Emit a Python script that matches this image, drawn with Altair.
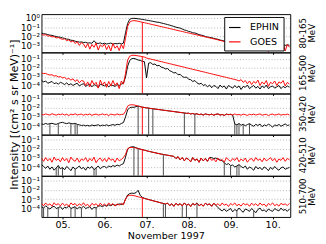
import altair as alt
import numpy as np
import pandas as pd

# sample times (day of November 1997), every 0.05 day
T = [round(4.5 + 0.05 * k, 2) for k in range(119)]

# log10 intensities
P1_GOES = [
    -1.75,-1.85,-1.80,-1.95,-1.92,-2.05,-2.00,-2.15,-2.10,-2.22,
    -2.30,-2.25,-2.45,-2.35,-2.60,-2.45,-2.75,-2.55,-2.95,-2.65,
    -2.80,-3.20,-2.75,-3.35,-2.85,-3.15,-2.70,-3.45,-2.90,-3.10,
    -2.80,-3.40,-2.95,-3.55,-2.75,-3.25,-3.00,-3.50,-2.85,-3.30,
    -2.20,-0.90,-0.45,-0.33,-0.30,-0.32,-0.37,-0.42,-0.47,-0.52,
    -0.57,-0.62,-0.68,-0.73,-0.78,-0.83,-0.89,-0.94,-0.99,-1.04,
    -1.10,-1.15,-1.20,-1.25,-1.31,-1.36,-1.41,-1.46,-1.52,-1.57,
    -1.62,-1.67,-1.73,-1.78,-1.83,-1.88,-1.94,-1.99,-2.04,-2.09,
    -2.15,-2.20,-2.25,-2.30,-2.36,-2.42,-2.47,-2.53,-2.58,-2.65,
    -2.70,-2.62,-2.85,-2.70,-3.00,-2.75,-3.20,-2.80,-3.10,-2.70,
    -3.30,-2.85,-3.05,-2.65,-3.45,-2.90,-3.15,-2.75,-3.60,-2.85,
    -3.20,-2.70,-3.40,-2.95,-3.05,-2.70,-3.55,-2.85,-3.15]
P1_EPHIN = [
    -1.62,-1.70,-1.72,-1.80,-1.85,-1.88,-1.95,-2.00,-2.05,-2.08,
    -2.15,-2.20,-2.28,-2.30,-2.40,-2.42,-2.50,-2.55,-2.60,-2.58,
    -2.65,-2.62,-2.70,-2.68,-2.72,-2.45,-2.70,-2.75,-2.68,-2.78,
    -2.72,-2.80,-2.75,-2.70,-2.82,-2.75,-2.78,-2.72,-2.80,-2.70,
    -1.60,-0.60,-0.15,-0.06,-0.05,-0.07,-0.10,-0.13,-0.17,-0.20,
    -0.25,-0.28,-0.33,-0.37,-0.42,-0.46,-0.48,-0.55,-0.60,-0.66,
    -0.72,-0.78,-0.85,-0.92,-1.00,-1.05,-1.10,-1.20,-1.30,-1.35,
    -1.45,-1.50,-1.60,-1.62,-1.70,-1.80,-1.85,-1.90,-2.00,-2.05,
    -2.10,-2.12,-2.20,-2.25,-2.30,-2.38,-2.42,-2.48,-2.52,-2.58,
    -2.62,-2.65,-2.70,-2.68,-2.75,-2.72,-2.80,-2.75,-2.78,-2.82,
    -2.80,-2.85,-2.78,-2.88,-2.82,-2.80,-2.90,-2.85,-2.82,-2.88,
    -2.85,-2.90,-2.84,-2.92,-2.86,-2.88,-2.95,-2.90,-2.92]

P2_GOES = [
    -2.55,-2.62,-2.60,-2.72,-2.78,-2.75,-2.90,-2.85,-3.00,-2.95,
    -3.10,-3.05,-3.25,-3.15,-3.35,-3.20,-3.50,-3.30,-3.65,-3.40,
    -3.45,-3.95,-3.55,-4.10,-3.40,-3.85,-3.60,-4.25,-3.35,-3.90,
    -3.55,-4.15,-3.50,-4.00,-3.40,-3.95,-3.65,-4.30,-3.45,-3.80,
    -2.60,-1.10,-0.68,-0.58,-0.57,-0.60,-0.64,-0.68,-0.72,-0.77,
    -0.88,-0.94,-1.00,-1.06,-1.11,-1.17,-1.23,-1.28,-1.34,-1.40,
    -1.46,-1.51,-1.57,-1.63,-1.68,-1.74,-1.80,-1.85,-1.91,-1.97,
    -2.03,-2.08,-2.14,-2.20,-2.25,-2.31,-2.37,-2.42,-2.48,-2.54,
    -2.60,-2.65,-2.71,-2.77,-2.82,-2.88,-2.94,-2.99,-3.05,-3.11,
    -3.17,-3.22,-3.28,-3.34,-3.45,-3.30,-3.60,-3.40,-3.75,-3.45,
    -3.85,-3.50,-3.70,-3.35,-3.95,-3.55,-3.80,-3.40,-4.05,-3.60,
    -3.75,-3.45,-3.95,-3.55,-3.70,-3.40,-4.00,-3.60,-3.80]
P2_EPHIN = [
    -3.40,-3.55,-3.45,-3.70,-3.60,-3.50,-3.75,-3.65,-3.80,-3.60,
    -3.70,-3.85,-3.65,-3.90,-3.75,-3.95,-3.80,-3.70,-4.00,-3.85,
    -3.75,-4.05,-3.90,-3.80,-4.10,-3.85,-3.95,-4.15,-3.80,-3.90,
    -4.00,-3.85,-4.10,-3.90,-3.95,-4.05,-3.85,-3.95,-3.80,-3.70,
    -3.00,-1.80,-1.15,-0.95,-0.92,-1.00,-1.10,-1.15,-1.25,-1.30,
    -3.10,-1.45,-1.40,-1.60,-1.55,-1.75,-1.70,-1.90,-1.95,-2.10,
    -2.05,-2.30,-2.40,-2.55,-2.50,-2.75,-2.70,-2.95,-3.05,-3.00,
    -3.25,-3.30,-3.50,-3.40,-3.65,-3.80,-3.70,-3.95,-3.85,-4.10,
    -3.90,-4.20,-3.95,-4.05,-4.30,-3.90,-4.15,-4.00,-4.35,-3.95,
    -4.10,-4.25,-3.95,-4.20,-4.00,-4.40,-4.05,-4.15,-3.90,-4.30,
    -4.10,-3.95,-4.25,-4.05,-4.35,-4.00,-4.20,-3.90,-4.30,-4.10,
    -4.00,-4.25,-4.10,-3.95,-4.30,-4.05,-4.20,-4.00,-4.15]

P3_GOES = [
    -2.70,-2.78,-2.68,-2.75,-2.80,-2.66,-2.74,-2.82,-2.70,-2.76,
    -2.68,-2.80,-2.72,-2.85,-2.70,-2.78,-2.66,-2.80,-2.74,-2.70,
    -2.82,-2.72,-2.78,-2.68,-2.84,-2.74,-2.70,-2.80,-2.76,-2.68,
    -2.78,-2.72,-2.86,-2.70,-2.76,-2.80,-2.68,-2.78,-2.74,-2.72,
    -2.40,-1.85,-1.72,-1.70,-1.72,-1.78,-1.84,-1.90,-1.95,-2.00,
    -2.03,-2.06,-2.10,-2.13,-2.16,-2.19,-2.22,-2.25,-2.28,-2.31,
    -2.34,-2.37,-2.40,-2.43,-2.46,-2.49,-2.52,-2.55,-2.58,-2.62,
    -2.60,-2.68,-2.64,-2.72,-2.66,-2.76,-2.70,-2.80,-2.68,-2.74,
    -2.78,-2.70,-2.82,-2.72,-2.68,-2.80,-2.74,-2.84,-2.70,-2.76,
    -2.72,-2.80,-2.68,-2.78,-2.74,-2.82,-2.70,-2.76,-2.84,-2.72,
    -2.78,-2.70,-2.80,-2.74,-2.68,-2.82,-2.76,-2.72,-2.86,-2.74,
    -2.70,-2.80,-2.76,-2.68,-2.82,-2.74,-2.78,-2.70,-2.80]
P3_EPHIN = ([
    -3.75,-3.80,-3.70,-3.78,-3.72,-3.68,-3.76,-3.80,-3.70,-3.62,
    -3.58,-3.66,-3.72,-3.64,-3.70,-3.75,-3.68,-3.80,-3.85,-3.92,
    -3.88,-3.95,-3.90,-3.98,-3.86,-3.94,-3.90,-3.84,-3.96,-3.88,
    -3.92,-3.85,-3.95,-3.88,-3.82,-3.90,-3.78,-3.84,-3.70,-3.60,
    -3.00,-2.25,-2.02,-1.96,-1.98,-1.90]
    + P3_GOES[46:92]
    + [-3.75,-3.85,-3.70,-3.90,-3.78,-3.95,-3.82,-3.72,
       -3.88,-4.00,-3.80,-3.92,-3.76,-4.05,-3.85,-3.95,-3.78,-3.90,
       -4.10,-3.85,-3.95,-3.80,-4.00,-3.88,-3.75,-3.92,-3.85])

P4_GOES = [
    -3.00,-3.35,-2.95,-3.30,-3.05,-3.45,-2.90,-3.25,-3.10,-3.40,
    -2.95,-3.30,-3.05,-3.50,-2.90,-3.20,-3.35,-3.00,-3.45,-3.10,
    -3.25,-2.95,-3.40,-3.05,-3.30,-2.90,-3.50,-3.15,-3.00,-3.35,
    -3.05,-3.40,-2.95,-3.25,-3.10,-3.45,-3.00,-3.30,-3.15,-2.95,
    -2.60,-2.00,-1.88,-1.86,-1.87,-1.92,-1.98,-2.05,-2.10,-2.16,
    -2.22,-2.28,-2.33,-2.38,-2.43,-2.48,-2.53,-2.58,-2.62,-2.66,
    -2.70,-2.74,-2.78,-2.82,-3.05,-2.85,-3.20,-2.95,-3.30,-3.00,
    -3.15,-3.40,-2.95,-3.25,-3.10,-3.45,-3.00,-3.30,-3.05,-3.35,
    -2.95,-3.25,-3.10,-3.40,-3.00,-3.30,-3.15,-3.45,-2.95,-3.20,
    -3.35,-3.05,-3.25,-2.95,-3.40,-3.10,-3.30,-3.00,-3.45,-3.15,
    -3.05,-3.35,-2.95,-3.25,-3.10,-3.40,-3.00,-3.30,-3.15,-2.95,
    -3.30,-3.05,-3.45,-3.10,-3.25,-2.95,-3.35,-3.05,-3.20]
P4_EPHIN = ([
    -3.70,-3.90,-4.10,-3.85,-4.20,-3.95,-4.30,-4.05,-3.80,-4.15,
    -4.00,-4.25,-3.90,-4.10,-4.35,-3.95,-4.20,-4.05,-3.85,-4.15,
    -4.00,-4.30,-3.95,-4.10,-3.90,-4.25,-4.05,-3.85,-4.15,-3.95,
    -3.90,-4.05,-3.85,-3.95,-3.80,-3.90,-3.75,-3.85,-3.70,-3.60,
    -2.90,-2.05,-1.85,-1.80,-1.80,-1.90]
    + P4_GOES[46:81]
    + [-2.95,-3.05,-3.00,-3.10,-3.20,-3.30,
       -3.50,-3.70,-3.60,-3.80,-3.75,-3.95,-3.85,-3.70,-3.90,
       -4.05,-3.85,-4.20,-3.95,-4.10,-4.30,-3.90,-4.15,-4.00,-4.25,
       -3.95,-4.10,-4.35,-4.00,-4.20,-3.90,-4.15,-4.30,-4.05,-3.95,
       -4.20,-4.10,-4.00])

P5_GOES = [
    -3.45,-3.70,-3.40,-3.65,-3.50,-3.75,-3.38,-3.62,-3.48,-3.72,
    -3.42,-3.68,-3.52,-3.78,-3.40,-3.60,-3.46,-3.74,-3.50,-3.66,
    -3.38,-3.70,-3.55,-3.80,-3.44,-3.64,-3.48,-3.76,-3.42,-3.68,
    -3.52,-3.72,-3.40,-3.66,-3.46,-3.74,-3.50,-3.62,-3.44,-3.58,
    -3.00,-2.65,-2.58,-2.58,-2.62,-2.68,-2.74,-2.80,-2.86,-2.92,
    -2.98,-3.04,-3.10,-3.16,-3.22,-3.28,-3.34,-3.40,-3.46,-3.52,
    -3.42,-3.68,-3.50,-3.76,-3.44,-3.64,-3.48,-3.72,-3.40,-3.66,
    -3.52,-3.78,-3.46,-3.62,-3.40,-3.70,-3.54,-3.74,-3.44,-3.60,
    -3.50,-3.76,-3.42,-3.66,-3.48,-3.72,-3.40,-3.64,-3.52,-3.78,
    -3.46,-3.62,-3.40,-3.70,-3.54,-3.74,-3.44,-3.60,-3.50,-3.76,
    -3.42,-3.66,-3.48,-3.72,-3.40,-3.64,-3.52,-3.78,-3.46,-3.62,
    -3.40,-3.70,-3.54,-3.74,-3.44,-3.60,-3.50,-3.68,-3.45]
P5_EPHIN = ([
    -3.80,-3.95,-3.70,-3.90,-4.05,-3.85,-3.75,-4.00,-3.90,-3.80,
    -4.10,-3.85,-3.95,-3.70,-4.00,-3.90,-3.80,-4.05,-3.85,-3.95,
    -3.75,-4.00,-3.90,-3.80,-4.10,-3.85,-3.95,-3.75,-3.70,-3.80,
    -3.65,-3.75,-3.60,-3.70,-3.55,-3.65,-3.60,-3.50,-3.58,-3.52,
    -3.00,-2.55,-2.40,-2.35,-2.38,-2.30,-2.05,-2.60,-2.80,-2.90]
    + P5_GOES[50:84]
    + [-3.90,-4.10,-4.25,-4.05,-4.30,-4.15,
       -4.00,-4.35,-4.10,-4.25,-3.95,-4.20,-4.40,-4.05,-4.15,-4.30,
       -4.00,-4.20,-4.45,-4.10,-3.95,-4.25,-4.15,-4.35,-4.05,-4.20,
       -4.30,-4.00,-4.15,-4.25,-3.95,-4.20,-4.10,-4.30,-4.05])

# sample indices where the data drop out (drawn down to the panel floor)
EPHIN_GAPS = [[], [],
              [4, 8, 14, 16, 17, 46, 51, 53, 68, 73, 92, 93, 94, 96, 99],
              [7, 8, 10, 16, 25, 26, 44, 46, 58, 87, 90, 93, 94],
              [1, 3, 8, 14, 16, 19, 26, 58, 59, 67, 69, 74, 93, 101]]
GOES_GAPS = [[48], [48], [48], [48], [48]]

CHANNELS = ["80-165\nMeV", "165-500\nMeV", "350-420\nMeV", "420-510\nMeV", "510-700\nMeV"]
Y_RANGES = [(-3.7, 0.4), (-4.85, -0.25), (-4.9, -0.5), (-4.9, -0.5), (-4.9, -0.5)]
Y_TICKS = [[1, 0.1, 0.01, 0.001]] + [[0.1, 0.01, 0.001, 0.0001]] * 4
DAYS = [5, 6, 7, 8, 9, 10]
SERIES = [(P1_EPHIN, P1_GOES), (P2_EPHIN, P2_GOES), (P3_EPHIN, P3_GOES),
          (P4_EPHIN, P4_GOES), (P5_EPHIN, P5_GOES)]
HEIGHTS = [40, 43, 43, 43, 43]

W = 260
FONT = "DejaVu Sans"
YLAB = ("datum.value >= 0.5 ? '10⁰' : datum.value >= 0.05 ? '10⁻¹' : "
        "datum.value >= 0.005 ? '10⁻²' : datum.value >= 0.0005 ? '10⁻³' : '10⁻⁴'")
XLAB = "datum.value < 10 ? '0' + datum.value + '.' : datum.value + '.'"

xscale = alt.Scale(domain=[4.5, 10.42], nice=False, zero=False)
cscale = alt.Scale(domain=["EPHIN", "GOES"], range=["black", "red"])

panels = []
for p in range(5):
    eph, goes = SERIES[p]
    lo, hi = Y_RANGES[p]
    H = HEIGHTS[p]
    yscale = alt.Scale(type="log", domain=[10 ** lo, 10 ** hi], nice=False)
    yaxis = alt.Axis(values=Y_TICKS[p], labelExpr=YLAB, grid=True, gridDash=[1, 2],
                     gridColor="#a0a0a0", gridWidth=0.8, ticks=False, domain=False,
                     labelPadding=2, labelFontSize=9, labelOverlap=False,
                     labelFlush=False,
                     title="Intensity [(cm² s sr MeV)⁻¹]" if p == 2 else None,
                     titleFontSize=11.5, titleFontWeight="normal", titlePadding=1)
    if p == 4:
        xaxis = alt.Axis(values=DAYS, labelExpr=XLAB, tickSize=2, labelPadding=1,
                         domain=False, grid=False, labelFontSize=10,
                         labelOverlap=False,
                         title="November 1997", titleFontSize=10,
                         titleFontWeight="normal", titlePadding=2)
    else:
        xaxis = alt.Axis(values=DAYS, labels=False, tickSize=2, domain=False,
                         grid=False, title=None)
    if p == 0:
        leg = alt.Legend(title=None, orient="none", legendX=191, legendY=3,
                         symbolType="stroke", symbolSize=144, symbolStrokeWidth=1.2,
                         labelFontSize=10, labelOffset=9, padding=4,
                         strokeColor="black", fillColor="white", rowPadding=3,
                         labelFont=FONT, cornerRadius=0)
    else:
        leg = None
    X = alt.X("t:Q", scale=xscale, axis=xaxis)
    layers = []
    for name, vals in (("EPHIN", eph), ("GOES", goes)):
        df = pd.DataFrame({"t": T, "v": np.power(10.0, vals), "s": name})
        layers.append(alt.Chart(df).mark_line(strokeWidth=1, clip=True).encode(
            x=X, y=alt.Y("v:Q", scale=yscale, axis=yaxis),
            color=alt.Color("s:N", scale=cscale, legend=leg)))
    for gaps, vals, col in ((EPHIN_GAPS[p], eph, "#444444"), (GOES_GAPS[p], goes, "red")):
        if gaps:
            gdf = pd.DataFrame({"t": [T[i] for i in gaps],
                                "v": [10 ** vals[i] for i in gaps],
                                "lo": [10 ** lo] * len(gaps)})
            layers.append(alt.Chart(gdf).mark_rule(color=col, strokeWidth=1, clip=True).encode(
                x=X, y=alt.Y("v:Q", scale=yscale, axis=yaxis), y2="lo:Q"))
    txt = alt.Chart(pd.DataFrame({"s": [CHANNELS[p]]})).mark_text(
        angle=270, fontSize=9, lineBreak="\n", lineHeight=10, align="center",
        baseline="middle", font=FONT, color="black").encode(
        text="s:N", x=alt.value(W + 13), y=alt.value(H / 2))
    layers.append(txt)
    panels.append(alt.layer(*layers).properties(width=W, height=H))

chart = (alt.vconcat(*panels, spacing=0, bounds="flush")
         .resolve_legend(color="independent")
         .properties(padding=0)
         .configure_view(stroke="black", strokeWidth=1)
         .configure_axis(labelFont=FONT, titleFont=FONT, labelColor="black",
                         titleColor="black", tickColor="black")
         .configure_legend(labelFont=FONT, labelColor="black"))

chart.save("out.html", embed_options={"renderer": "svg", "actions": False})
